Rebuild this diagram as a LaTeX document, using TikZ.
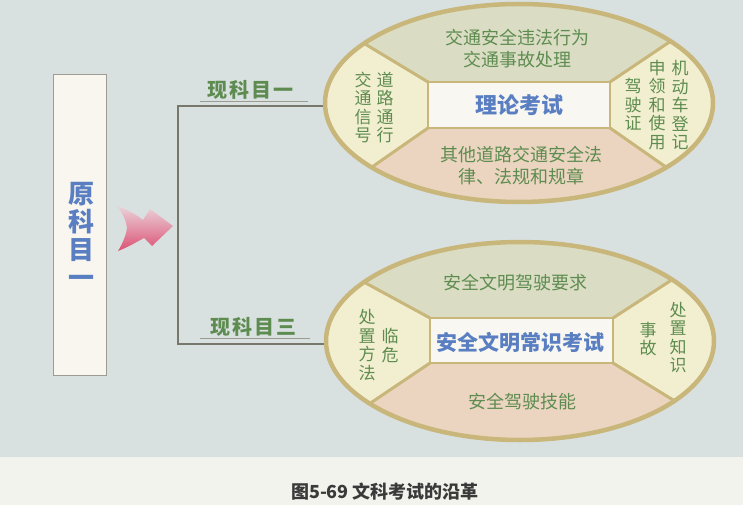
\documentclass[tikz,border=0pt]{standalone}
\usepackage{fontspec}
\newfontfamily\cjk{Noto Sans CJK SC}
\usetikzlibrary{shapes.geometric}
\definecolor{bg}{HTML}{D9E1E0}
\definecolor{capbg}{HTML}{F3F3EE}
\definecolor{tanline}{HTML}{C8B67A}
\definecolor{topfill}{HTML}{DADDC3}
\definecolor{sidefill}{HTML}{F2EFD0}
\definecolor{botfill}{HTML}{EBD5C0}
\definecolor{ctrfill}{HTML}{F8F7F1}
\definecolor{greentxt}{HTML}{5E8C50}
\definecolor{bluetxt}{HTML}{5A7EC2}
\definecolor{brk}{HTML}{77776C}
\definecolor{boxline}{HTML}{9C9C92}
\definecolor{boxfill}{HTML}{F8F6EF}
\definecolor{captxt}{HTML}{3A3A3A}
\definecolor{arrowA}{HTML}{EAD3D9}
\definecolor{arrowB}{HTML}{DC5275}
\tikzset{
 exam/.style={ellipse, draw=tanline, line width=4.5pt, minimum width=388pt, minimum height=198pt, inner sep=0pt},
 divline/.style={draw=tanline, line width=3pt},
 centerbox/.style={draw=tanline, line width=2pt, fill=ctrfill, inner sep=0pt},
 hz/.style={text=greentxt, font=\cjk\fontsize{18}{22}\selectfont, align=center, inner sep=0pt},
 vt/.style={text=greentxt, font=\cjk\fontsize{17}{18.5}\selectfont, align=center, inner sep=0pt},
 title/.style={text=bluetxt, inner sep=0pt},
 lbl/.style={text=greentxt, font=\cjk\bfseries\fontsize{20}{20}\selectfont, inner sep=0pt},
 uline/.style={draw=boxline, line width=1pt},
 brkline/.style={draw=brk, line width=1.5pt},
 oldbox/.style={draw=boxline, line width=1pt, fill=boxfill, minimum width=53pt, minimum height=300pt, inner sep=0pt},
}
\begin{document}
\begin{tikzpicture}[x=1pt,y=-1pt]
\useasboundingbox (0,0) rectangle (743,505);
\fill[bg] (0,0) rectangle (743,457);
\fill[capbg] (0,457) rectangle (743,505);

% old subject box
\node[oldbox] (yuan) at (79.5,225) {};
\node[text=bluetxt, font=\cjk\bfseries\fontsize{26}{28}\selectfont, align=center, inner sep=0pt] (yuant) at (81,235) {原\\科\\目\\一};

% arrow
\shade[left color=arrowA, right color=arrowB, shading angle=0]
  (117,206) .. controls (128,210) and (137,215) .. (143,220)
  -- (150,209) -- (173,226) -- (152,246) -- (144,238)
  .. controls (135,243) and (126,248) .. (118,251)
  .. controls (123,243) and (126,235) .. (127,228)
  .. controls (126,220) and (122,212) .. cycle;

% bracket
\coordinate (c1) at (178,106);
\coordinate (c2) at (178,344);
\node[exam, draw=none] (e1) at (519,103) {};
\node[exam, draw=none] (e2) at (520,341) {};
\draw[brkline] (c1 -| e1.west) -- (c1) -- (c2) -- (c2 -| e2.west);

% labels
\node[lbl] (l1) at (250.5,90) {现\hspace{2pt}科\hspace{2pt}目\hspace{2pt}一};
\draw[uline] (200,102) -- (308,102);
\node[lbl] (l3) at (253,327) {现\hspace{2pt}科\hspace{2pt}目\hspace{2pt}三};
\draw[uline] (200,338) -- (310,338);

% ===== top ellipse =====
\begin{scope}
\clip (519,103) ellipse [x radius=194pt, y radius=99pt];
\fill[topfill] (300,0) rectangle (740,210);
\fill[botfill] (428,128) -- (316,206) -- (316,215) -- (716,215) -- (716,202) -- (610,128) -- cycle;
\fill[sidefill] (428,82) -- (312,12) -- (300,12) -- (300,210) -- (316,206) -- (428,128) -- cycle;
\fill[sidefill] (610,82) -- (720,8) -- (740,8) -- (740,210) -- (716,202) -- (610,128) -- cycle;
\draw[divline] (428,82) -- (312,12);
\draw[divline] (610,82) -- (720,8);
\draw[divline] (428,128) -- (316,206);
\draw[divline] (610,128) -- (716,202);
\end{scope}
\node[exam] at (519,103) {};
\node[centerbox, minimum width=182pt, minimum height=46pt] (r1) at (519,105) {};
\node[title, font=\cjk\bfseries\fontsize{22}{22}\selectfont] (t1) at (r1.center) {理论考试};
\node[hz] (a1) at (517,49) {交通安全违法行为\\交通事故处理};
\node[hz] (b1) at (521,166) {其他道路交通安全法\\律、法规和规章};
\node[vt] (la1) at (363,107.5) {交\\通\\信\\号};
\node[vt] (lb1) at (385,107.5) {道\\路\\通\\行};
\node[vt] (ra1) at (633,104.5) {驾\\驶\\证};
\node[vt] (rb1) at (657,105) {申\\领\\和\\使\\用};
\node[vt] (rc1) at (680,105) {机\\动\\车\\登\\记};

% ===== bottom ellipse =====
\begin{scope}
\clip (520,341) ellipse [x radius=194pt, y radius=99pt];
\fill[topfill] (300,230) rectangle (740,450);
\fill[botfill] (430,363) -- (320,437) -- (320,450) -- (717,450) -- (717,427) -- (613,363) -- cycle;
\fill[sidefill] (430,318) -- (316,256) -- (300,256) -- (300,450) -- (320,437) -- (430,363) -- cycle;
\fill[sidefill] (613,318) -- (721,248) -- (740,248) -- (740,450) -- (717,427) -- (613,363) -- cycle;
\draw[divline] (430,318) -- (316,256);
\draw[divline] (613,318) -- (721,248);
\draw[divline] (430,363) -- (320,437);
\draw[divline] (613,363) -- (717,427);
\end{scope}
\node[exam] at (520,341) {};
\node[centerbox, minimum width=183pt, minimum height=45pt] (r2) at (521.5,340.5) {};
\node[title, font=\cjk\bfseries\fontsize{21}{21}\selectfont] (t2) at (520,342) {安全文明常识考试};
\node[hz] (a2) at (515,283) {安全文明驾驶要求};
\node[hz] (b2) at (522,402) {安全驾驶技能};
\node[vt] (la2) at (367,345) {处\\置\\方\\法};
\node[vt] (lb2) at (390,345.5) {临\\危};
\node[vt] (ra2) at (648,339) {事\\故};
\node[vt] (rb2) at (678,337.5) {处\\置\\知\\识};

% caption
\node[text=captxt, font=\cjk\bfseries\fontsize{18}{18}\selectfont, inner sep=0pt] (cap) at (385,492) {图5-69 文科考试的沿革};
\end{tikzpicture}
\end{document}
